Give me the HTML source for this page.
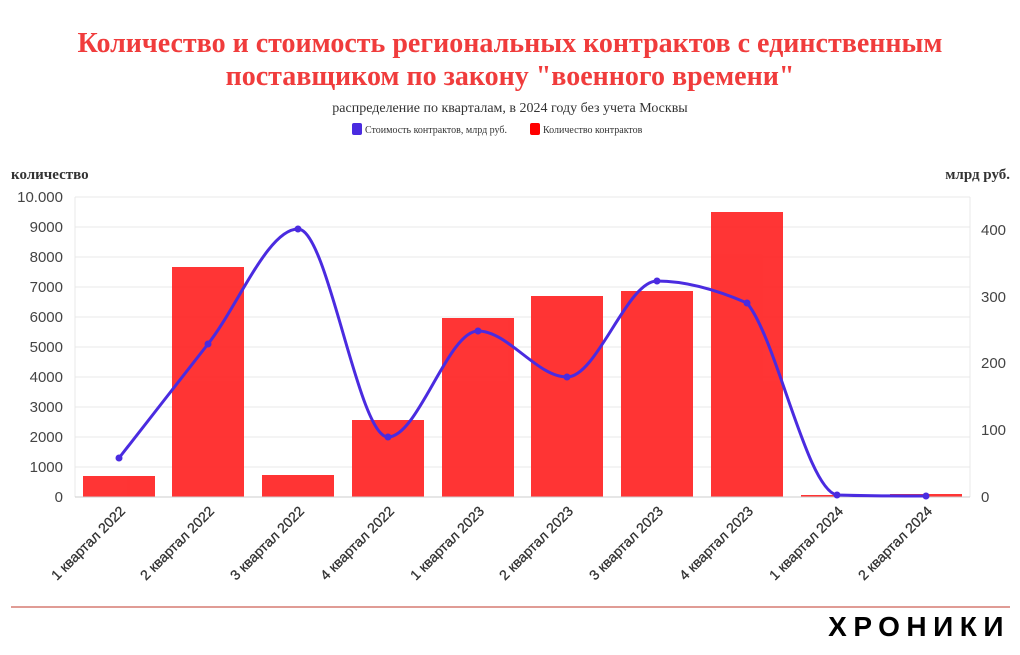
<!DOCTYPE html>
<html><head><meta charset="utf-8"><style>
body{margin:0;background:#fff;width:1020px;height:650px;overflow:hidden;font-family:"Liberation Serif",serif}
</style></head><body>
<svg width="1020" height="650" xmlns="http://www.w3.org/2000/svg">
<text x="510" y="52" text-anchor="middle" font-family="Liberation Serif" font-weight="bold" font-size="28" fill="#f03c3c">Количество и стоимость региональных контрактов с единственным</text>
<text x="510" y="85" text-anchor="middle" font-family="Liberation Serif" font-weight="bold" font-size="28" fill="#f03c3c">поставщиком по закону "военного времени"</text>
<text x="510" y="112" text-anchor="middle" font-family="Liberation Serif" font-size="14" fill="#333">распределение по кварталам, в 2024 году без учета Москвы</text>
<rect x="352" y="123" width="10" height="12" rx="2" fill="#4a2be0"/>
<text x="365" y="133" font-size="10" fill="#333">Стоимость контрактов, млрд руб.</text>
<rect x="530" y="123" width="10" height="12" rx="2" fill="#f00"/>
<text x="543" y="133" font-size="10" fill="#333">Количество контрактов</text>
<text x="11" y="179" font-weight="bold" font-size="15" fill="#333">количество</text>
<text x="1010" y="179" text-anchor="end" font-weight="bold" font-size="15" fill="#333">млрд руб.</text>
<g stroke="#e8e8e8" stroke-width="1">
<line x1="75" y1="197" x2="970" y2="197"/><line x1="75" y1="227" x2="970" y2="227"/><line x1="75" y1="257" x2="970" y2="257"/><line x1="75" y1="287" x2="970" y2="287"/><line x1="75" y1="317" x2="970" y2="317"/><line x1="75" y1="347" x2="970" y2="347"/><line x1="75" y1="377" x2="970" y2="377"/><line x1="75" y1="407" x2="970" y2="407"/><line x1="75" y1="437" x2="970" y2="437"/><line x1="75" y1="467" x2="970" y2="467"/>
<line x1="75" y1="197" x2="75" y2="497"/><line x1="970" y1="197" x2="970" y2="497"/>
</g>
<g font-family="Liberation Sans" font-size="15" fill="#444" text-anchor="end">
<text x="63" y="202">10.000</text><text x="63" y="232">9000</text><text x="63" y="262">8000</text><text x="63" y="292">7000</text><text x="63" y="322">6000</text><text x="63" y="352">5000</text><text x="63" y="382">4000</text><text x="63" y="412">3000</text><text x="63" y="442">2000</text><text x="63" y="472">1000</text><text x="63" y="502">0</text>
</g>
<g font-family="Liberation Sans" font-size="15" fill="#444">
<text x="981" y="235">400</text><text x="981" y="302">300</text><text x="981" y="368">200</text><text x="981" y="435">100</text><text x="981" y="502">0</text>
</g>
<g fill="#ff2a2a" opacity="0.95">
<rect x="83" y="476" width="72" height="21"/>
<rect x="172" y="267" width="72" height="230"/>
<rect x="262" y="475" width="72" height="22"/>
<rect x="352" y="420" width="72" height="77"/>
<rect x="442" y="318" width="72" height="179"/>
<rect x="531" y="296" width="72" height="201"/>
<rect x="621" y="291" width="72" height="206"/>
<rect x="711" y="212" width="72" height="285"/>
<rect x="801" y="495" width="72" height="2"/>
<rect x="890" y="494" width="72" height="3"/>
</g>
<line x1="75" y1="497" x2="970" y2="497" stroke="#ccc"/>
<path d="M119,458 C149,420 178,382 208,344 C238,306 268,229 298,229 C328,229 358,437 388,437 C418,437 448,331 478,331 C508,331 537,377 567,377 C597,377 627,281 657,281 C687,281 717,290 747,303 C777,339 807,490 837,495 C867,496 896,496 926,496" fill="none" stroke="#4a2be0" stroke-width="3"/>
<g fill="#4a2be0">
<circle cx="119" cy="458" r="3.5"/><circle cx="208" cy="344" r="3.5"/><circle cx="298" cy="229" r="3.5"/><circle cx="388" cy="437" r="3.5"/><circle cx="478" cy="331" r="3.5"/><circle cx="567" cy="377" r="3.5"/><circle cx="657" cy="281" r="3.5"/><circle cx="747" cy="303" r="3.5"/><circle cx="837" cy="495" r="3.5"/><circle cx="926" cy="496" r="3.5"/>
</g>
<g font-family="Liberation Sans" font-size="14" fill="#333" text-anchor="end" stroke="#333" stroke-width="0.3">
<text transform="translate(126,512) rotate(-45)">1 квартал 2022</text>
<text transform="translate(215,512) rotate(-45)">2 квартал 2022</text>
<text transform="translate(305,512) rotate(-45)">3 квартал 2022</text>
<text transform="translate(395,512) rotate(-45)">4 квартал 2022</text>
<text transform="translate(485,512) rotate(-45)">1 квартал 2023</text>
<text transform="translate(574,512) rotate(-45)">2 квартал 2023</text>
<text transform="translate(664,512) rotate(-45)">3 квартал 2023</text>
<text transform="translate(754,512) rotate(-45)">4 квартал 2023</text>
<text transform="translate(844,512) rotate(-45)">1 квартал 2024</text>
<text transform="translate(933,512) rotate(-45)">2 квартал 2024</text>
</g>
<line x1="11" y1="607" x2="1010" y2="607" stroke="#c0392b" stroke-width="1"/>
<text x="1010" y="636" text-anchor="end" font-family="Liberation Sans" font-weight="bold" font-size="28" letter-spacing="6.5" fill="#000">ХРОНИКИ</text>
</svg>
</body></html>
